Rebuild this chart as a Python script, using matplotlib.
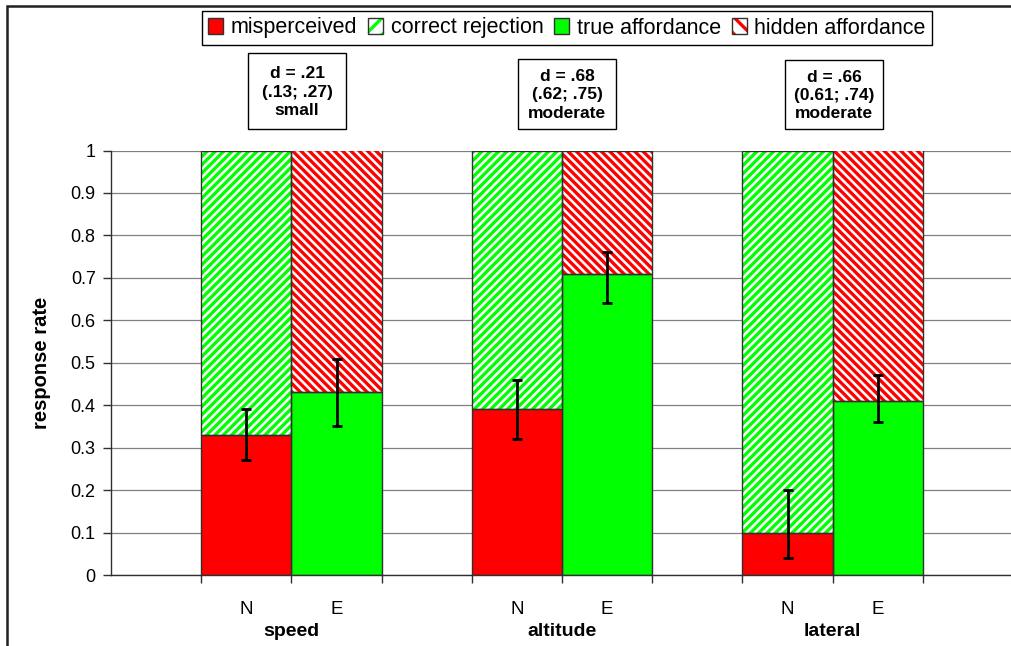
import matplotlib.pyplot as plt
from matplotlib.patches import Patch, Rectangle
from matplotlib.legend_handler import HandlerTuple

plt.rcParams['font.family'] = ['Liberation Sans', 'DejaVu Sans']
plt.rcParams['hatch.linewidth'] = 2.4

# data
conditions = ['speed', 'altitude', 'lateral']
groups = ['N', 'E']
misperceived = [0.33, 0.39, 0.10]
correct_rejection = [0.67, 0.61, 0.90]
true_affordance = [0.43, 0.71, 0.41]
hidden_affordance = [0.57, 0.29, 0.59]
n_ci_low = [0.27, 0.32, 0.04]
n_ci_high = [0.39, 0.46, 0.20]
e_ci_low = [0.35, 0.64, 0.36]
e_ci_high = [0.51, 0.76, 0.47]
effect_labels = ['d = .21\n(.13; .27)\nsmall',
                 'd = .68\n(.62; .75)\nmoderate',
                 'd = .66\n(0.61; .74)\nmoderate']
y_ticks = [0, 0.1, 0.2, 0.3, 0.4, 0.5, 0.6, 0.7, 0.8, 0.9, 1]

RED = '#ff0000'
GREEN = '#00ff00'
EDGE = '#303030'
HATCH_N = '////'
HATCH_E = '\\\\\\\\'
W, H = 1012, 646


def fx(x):
    return x / W


def fy(y):
    return 1 - y / H


fig = plt.figure(figsize=(W / 100, H / 100), dpi=100)
ax = fig.add_axes([fx(111), fy(575), fx(1013) - fx(111), fy(150.5) - fy(575)])

n_x = [3 * i + 1.5 for i in range(len(conditions))]
e_x = [3 * i + 2.5 for i in range(len(conditions))]

# N bars: misperceived + correct rejection
ax.bar(n_x, misperceived, width=1, color=RED, linewidth=0, zorder=2)
ax.bar(n_x, correct_rejection, width=1, bottom=misperceived, color='white',
       edgecolor=GREEN, hatch=HATCH_N, linewidth=0, zorder=2)
# E bars: true affordance + hidden affordance
ax.bar(e_x, true_affordance, width=1, color=GREEN, linewidth=0, zorder=2)
ax.bar(e_x, hidden_affordance, width=1, bottom=true_affordance, color='white',
       edgecolor=RED, hatch=HATCH_E, linewidth=0, zorder=2)

# outlines
for xs, low, high in [(n_x, misperceived, correct_rejection), (e_x, true_affordance, hidden_affordance)]:
    ax.bar(xs, low, width=1, facecolor='none', edgecolor=EDGE, linewidth=1, zorder=3)
    ax.bar(xs, high, width=1, bottom=low, facecolor='none', edgecolor=EDGE, linewidth=1, zorder=3)

# error bars
n_err = [[m - lo for m, lo in zip(misperceived, n_ci_low)],
         [hi - m for m, hi in zip(misperceived, n_ci_high)]]
e_err = [[m - lo for m, lo in zip(true_affordance, e_ci_low)],
         [hi - m for m, hi in zip(true_affordance, e_ci_high)]]
ax.errorbar(n_x, misperceived, yerr=n_err, fmt='none', ecolor='black',
            elinewidth=2, capsize=3.6, capthick=2, zorder=4)
ax.errorbar(e_x, true_affordance, yerr=e_err, fmt='none', ecolor='black',
            elinewidth=2, capsize=3.6, capthick=2, zorder=4)

ax.set_xlim(0, 10)
ax.set_ylim(0, 1)
ax.set_yticks(y_ticks)
ax.set_yticklabels(['0' if t == 0 else '1' if t == 1 else f'{t:.1f}' for t in y_ticks])
ax.yaxis.grid(True, color='#808080', linewidth=0.9)
ax.set_axisbelow(True)

ax.set_xticks(n_x + e_x)
ax.set_xticklabels(groups[:1] * 3 + groups[1:] * 3)
ax.set_xticks(range(1, 10), minor=True)
ax.tick_params(axis='x', which='major', length=0, pad=19, labelsize=13.5)
ax.tick_params(axis='x', which='minor', length=6, color=EDGE, width=1)
ax.tick_params(axis='y', length=6, color=EDGE, width=1, labelsize=13, pad=5)

for s in ['top', 'right']:
    ax.spines[s].set_visible(False)
for s in ['left', 'bottom']:
    ax.spines[s].set_color(EDGE)
    ax.spines[s].set_linewidth(1)

ax.set_ylabel('response rate', fontsize=14.5, fontweight='bold', labelpad=14)

for i, name in enumerate(conditions):
    ax.annotate(name, xy=(3 * i + 2, 0), xycoords=('data', 'axes fraction'),
                xytext=(0, -56), textcoords='offset pixels', ha='center', va='center',
                fontsize=14, fontweight='bold')

# effect size boxes
boxes = [(248, 53, 346, 129), (518, 59, 616, 129), (785, 60, 883, 129)]
for (x0, y0, x1, y1), label in zip(boxes, effect_labels):
    fig.add_artist(Rectangle((fx(x0), fy(y1)), fx(x1) - fx(x0), fy(y0) - fy(y1),
                             transform=fig.transFigure, facecolor='white',
                             edgecolor='black', linewidth=1))
    fig.text(fx((x0 + x1) / 2), fy((y0 + y1) / 2 + 1), label, ha='center', va='center',
             fontsize=12.5, fontweight='bold', linespacing=1.28)

# legend
h_mis = (Patch(facecolor=RED, edgecolor=EDGE, linewidth=1),)
h_cor = (Patch(facecolor='white', edgecolor=GREEN, hatch='//', linewidth=0),
         Patch(facecolor='none', edgecolor=EDGE, linewidth=1))
h_tru = (Patch(facecolor=GREEN, edgecolor=EDGE, linewidth=1),)
h_hid = (Patch(facecolor='white', edgecolor=RED, hatch='\\\\', linewidth=0),
         Patch(facecolor='none', edgecolor=EDGE, linewidth=1))
leg = fig.legend([h_mis, h_cor, h_tru, h_hid],
                 ['misperceived', 'correct rejection', 'true affordance', 'hidden affordance'],
                 handler_map={tuple: HandlerTuple(ndivide=1, pad=0)},
                 loc='center', bbox_to_anchor=(fx(567), fy(28)), ncol=4, fontsize=15.5,
                 frameon=True, fancybox=False, edgecolor='black', framealpha=1,
                 handlelength=0.7, handleheight=0.7, handletextpad=0.35,
                 columnspacing=0.5, borderpad=0.3, borderaxespad=0)
leg.get_frame().set_linewidth(1)

# chart area border
fig.add_artist(Rectangle((fx(7), fy(700)), fx(1100), fy(6) - fy(700),
                         transform=fig.transFigure, facecolor='none',
                         edgecolor='#202020', linewidth=1.8))

fig.savefig('out.png', dpi=100)
